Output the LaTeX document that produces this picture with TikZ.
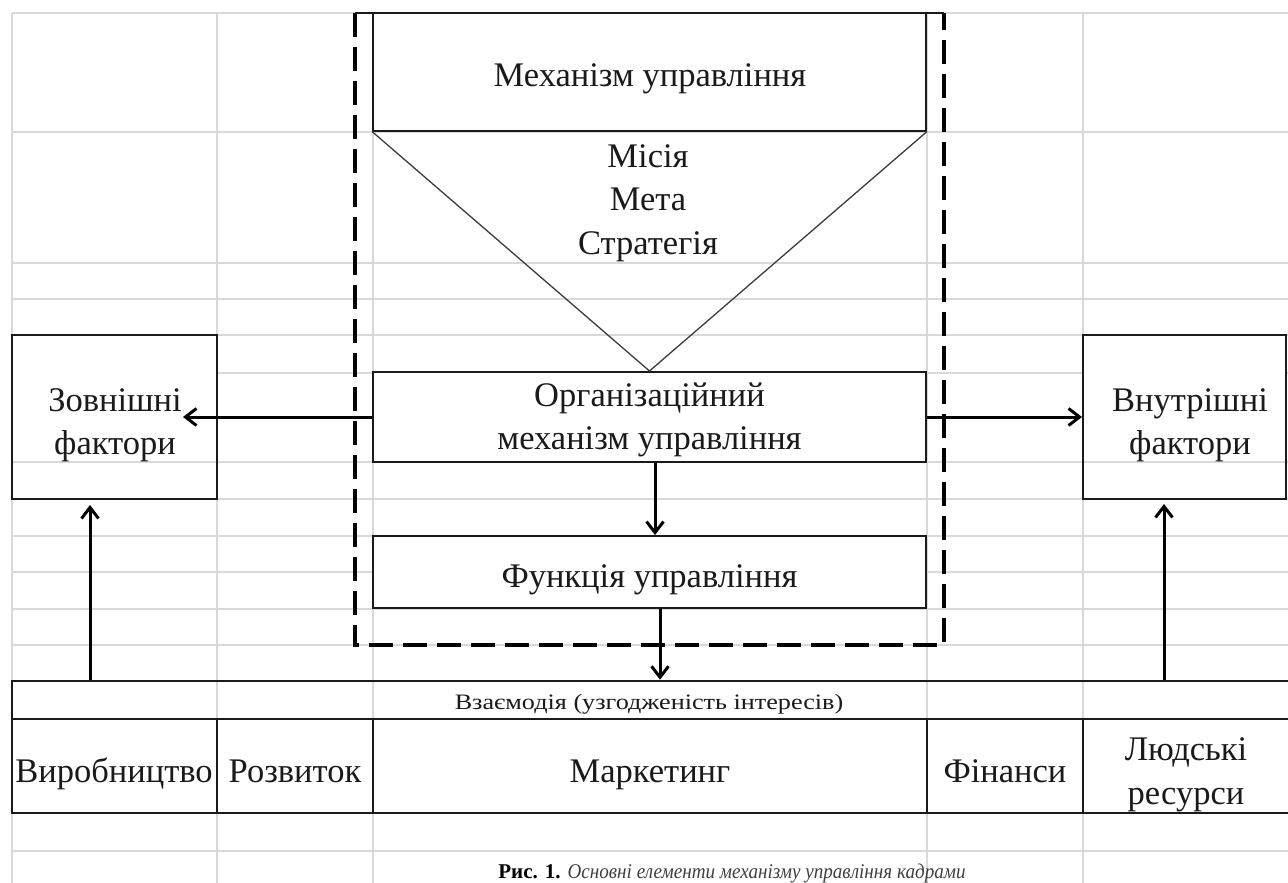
\documentclass[tikz,border=0pt]{standalone}
\usepackage{fontspec}
\setmainfont{Liberation Serif}
\usetikzlibrary{arrows.meta}
\definecolor{gridc}{HTML}{D9D9D9}
\definecolor{ink}{HTML}{1A1A1A}
\begin{document}
\begin{tikzpicture}[x=1pt,y=-1pt,
  gridline/.style={draw=gridc, line width=1.6pt},
  box/.style={draw=ink, line width=2pt, fill=white, inner sep=0pt},
  sidebox/.style={draw=ink, line width=2pt, inner sep=0pt},
  cell/.style={draw=ink, line width=2.6pt, inner sep=0pt},
  lbl/.style={font=\fontsize{34.5}{43.5}\selectfont, align=center, text=ink, inner sep=0pt},
  bl/.style={lbl, anchor=base},
  arr/.style={draw=black, line width=3pt, -{Straight Barb[length=11pt,width=17pt]}},
  dashbox/.style={draw=black, line width=4.5pt, dash pattern=on 24pt off 10pt},
  tri/.style={draw=ink!85, line width=1.3pt}]

\useasboundingbox (0,0) rectangle (1288,883);
\fill[white] (0,0) rectangle (1288,883);

% spreadsheet grid
\foreach \x in {12,217,373,927,1083} \draw[gridline] (\x,13) -- (\x,883);
\foreach \y in {13,132,263,299,335,373,462,499,536,572,609,645,681,719,813,851} \draw[gridline] (12,\y) -- (1288,\y);

% dashed frame
\draw[dashbox] (355,13) -- (355,645) -- (944,645) -- (944,13);
\draw[draw=ink, line width=2pt] (355,13) -- (373,13) (926,13) -- (944,13);

% central boxes
\node[box, minimum width=553pt, minimum height=117pt] (mech) at (649.5,72) {};
\node[box, minimum width=553pt, minimum height=90pt] (org) at (649.5,417) {};
\node[box, minimum width=553pt, minimum height=72pt] (fun) at (649.5,572) {};
\node[bl] (mecht) at (650,87) {Механізм управління};
\node[lbl] (orgt) at (649.5,420) {Організаційний\\механізм управління};
\node[bl] (funt) at (649.5,587) {Функція управління};

% triangle
\draw[tri] (mech.south west) -- (org.north) -- (mech.south east);
\node[lbl] (goals) at (648,203) {Місія\\Мета\\Стратегія};

% side boxes
\fill[white] (13,336) rectangle (216,455);
\fill[white] (1084,336) rectangle (1285,455);
\node[sidebox, minimum width=205pt, minimum height=164pt] (zov) at (114.5,417) {};
\node[sidebox, minimum width=203pt, minimum height=164pt] (vnut) at (1184.5,417) {};
\node[lbl] (zovt) at (115,425) {Зовнішні\\фактори};
\node[lbl] (vnutt) at (1190,425) {Внутрішні\\фактори};

% bottom table
\node[cell, minimum width=1283pt, minimum height=38pt] (inter) at (653.5,700) {};
\node[cell, minimum width=205pt, minimum height=94pt] (c1) at (114.5,766) {};
\node[cell, minimum width=156pt, minimum height=94pt] (c2) at (295,766) {};
\node[cell, minimum width=554pt, minimum height=94pt] (c3) at (650,766) {};
\node[cell, minimum width=156pt, minimum height=94pt] (c4) at (1005,766) {};
\node[cell, minimum width=212pt, minimum height=94pt] (c5) at (1189,766) {};

\node[text=ink, inner sep=0pt, anchor=base, font=\fontsize{22}{26}\selectfont] (intert) at (649,709) {\scalebox{1.19}[1]{Взаємодія (узгодженість інтересів)}};
\node[bl] (t1) at (114,782) {Виробництво};
\node[bl] (t2) at (295,782) {Розвиток};
\node[bl] (t3) at (650,782) {Маркетинг};
\node[bl] (t4) at (1005,782) {Фінанси};
\node[lbl] (t5) at (1186,775) {Людські\\ресурси};

% caption
\node[inner sep=0pt, anchor=base, font=\fontsize{21}{25}\selectfont] (cap) at (732,878) {\textbf{Рис. 1.} {\color{black!75}\scalebox{0.91}[1]{\itshape Основні елементи механізму управління кадрами}}};

% connectors
\coordinate (zin) at (183,417);
\draw[arr] (org.west) -- (zin);
\draw[arr] (org.east) -- (org.east -| vnut.west);
\draw[arr] ([xshift=5.5pt]org.south) -- ([xshift=5.5pt]fun.north);
\draw[arr] ([xshift=10.5pt]fun.south) -- ([xshift=10.5pt]fun.south |- inter.north);
\coordinate (lup) at (90,505);
\coordinate (rup) at (1164,504);
\draw[arr] (lup |- inter.north) -- (lup);
\draw[arr] (rup |- inter.north) -- (rup);
\end{tikzpicture}
\end{document}
